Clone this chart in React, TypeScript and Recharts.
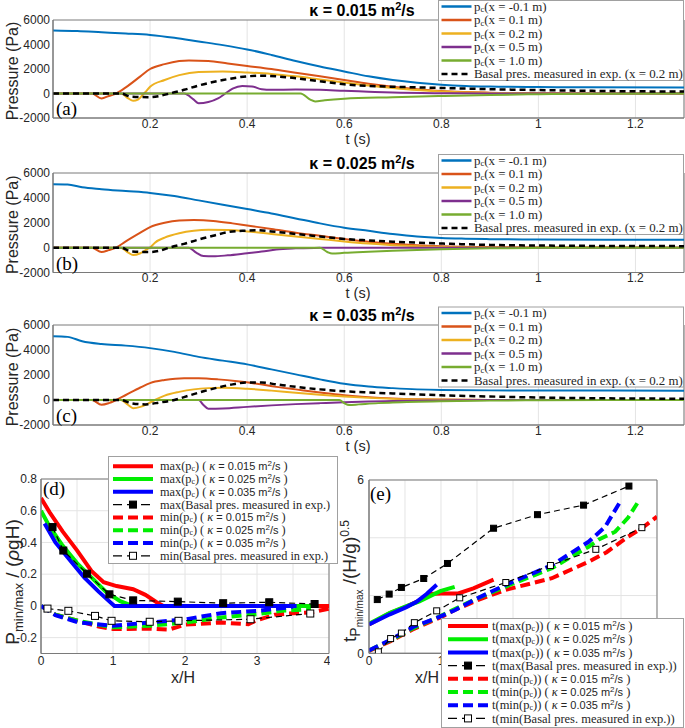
import React from "react";
import { LineChart, Line, XAxis, YAxis, CartesianGrid, ReferenceArea } from "recharts";

type Pt = [number, number];

// ---- (a)-(c): basal pressure p_c (Pa) against t (s)
const tTicks = [0.2, 0.4, 0.6, 0.8, 1, 1.2];
const pTicks = [-2000, 0, 2000, 4000, 6000];
const probeLabels = ["-0.1", "0.1", "0.2", "0.5", "1.0"];
const kappaLabels = ["0.015", "0.025", "0.035"];

// kappa = 0.015
const aM01: Pt[] = [[0, 5150], [0.05, 5100], [0.1, 5000], [0.15, 4900], [0.2, 4780], [0.25, 4550], [0.3, 4250], [0.35, 3950], [0.4, 3600], [0.45, 3150], [0.5, 2650], [0.55, 2200], [0.6, 1800], [0.65, 1400], [0.7, 1100], [0.75, 880], [0.8, 720], [0.85, 620], [0.9, 570], [1.0, 530], [1.1, 510], [1.3, 500]];
const a01: Pt[] = [[0, 0], [0.08, 0], [0.1, -400], [0.115, -200], [0.13, 0], [0.15, 500], [0.18, 1400], [0.2, 2000], [0.23, 2400], [0.26, 2650], [0.28, 2700], [0.32, 2650], [0.36, 2450], [0.4, 2250], [0.45, 2000], [0.5, 1700], [0.55, 1400], [0.6, 1100], [0.65, 800], [0.7, 550], [0.75, 350], [0.8, 200], [0.85, 120], [0.9, 70], [1.0, 30], [1.1, 10], [1.3, 0]];
const a02: Pt[] = [[0, 0], [0.14, 0], [0.155, -400], [0.165, -600], [0.175, -500], [0.185, -100], [0.19, 100], [0.2, 550], [0.23, 1100], [0.26, 1500], [0.3, 1760], [0.35, 1800], [0.4, 1720], [0.45, 1600], [0.5, 1400], [0.55, 1150], [0.6, 900], [0.65, 650], [0.7, 450], [0.75, 280], [0.8, 160], [0.9, 50], [1.0, 10], [1.3, 0]];
const a05: Pt[] = [[0, 0], [0.27, 0], [0.29, -500], [0.3, -800], [0.32, -700], [0.34, -400], [0.355, 0], [0.37, 400], [0.39, 620], [0.41, 580], [0.43, 350], [0.45, 300], [0.5, 320], [0.55, 300], [0.6, 220], [0.65, 150], [0.7, 80], [0.8, 20], [0.9, 0], [1.3, 0]];
const a10: Pt[] = [[0, 0], [0.51, 0], [0.53, -500], [0.54, -650], [0.56, -550], [0.6, -420], [0.7, -300], [0.8, -200], [0.9, -120], [1.0, -60], [1.1, -20], [1.3, 0]];
const aExp: Pt[] = [[0, 0], [0.14, 0], [0.16, -250], [0.2, -300], [0.22, -200], [0.24, 0], [0.27, 300], [0.3, 650], [0.35, 1100], [0.4, 1400], [0.43, 1450], [0.46, 1400], [0.5, 1250], [0.55, 1000], [0.6, 750], [0.65, 620], [0.7, 550], [0.75, 500], [0.8, 450], [0.85, 400], [0.9, 350], [1.0, 280], [1.1, 220], [1.2, 180], [1.3, 160]];

// kappa = 0.025
const bM01: Pt[] = [[0, 5100], [0.03, 5080], [0.06, 4850], [0.1, 4700], [0.15, 4550], [0.2, 4400], [0.25, 4150], [0.3, 3800], [0.35, 3450], [0.4, 3100], [0.45, 2750], [0.5, 2350], [0.55, 1950], [0.6, 1600], [0.65, 1350], [0.7, 1100], [0.75, 900], [0.8, 780], [0.85, 720], [0.9, 680], [1.0, 650], [1.3, 630]];
const b01: Pt[] = [[0, 0], [0.08, 0], [0.1, -350], [0.115, -200], [0.13, 0], [0.15, 500], [0.18, 1200], [0.2, 1650], [0.23, 2000], [0.26, 2180], [0.29, 2220], [0.33, 2150], [0.37, 1950], [0.4, 1780], [0.45, 1500], [0.5, 1200], [0.55, 950], [0.6, 700], [0.65, 480], [0.7, 320], [0.75, 200], [0.8, 120], [0.9, 40], [1.0, 10], [1.3, 0]];
const b02: Pt[] = [[0, 0], [0.14, 0], [0.155, -400], [0.165, -600], [0.18, -450], [0.195, -100], [0.2, 0], [0.21, 400], [0.23, 800], [0.26, 1150], [0.29, 1350], [0.32, 1430], [0.36, 1420], [0.4, 1300], [0.45, 1100], [0.5, 900], [0.55, 700], [0.6, 500], [0.65, 330], [0.7, 200], [0.75, 110], [0.8, 60], [0.9, 20], [1.3, 0]];
const b05: Pt[] = [[0, 0], [0.28, 0], [0.295, -400], [0.31, -680], [0.33, -700], [0.36, -620], [0.4, -450], [0.43, -320], [0.46, -150], [0.5, -60], [0.55, -20], [0.6, 0], [1.3, 0]];
const b10: Pt[] = [[0, 0], [0.55, 0], [0.565, -350], [0.575, -480], [0.6, -420], [0.65, -330], [0.7, -250], [0.8, -130], [0.9, -60], [1.0, -20], [1.3, 0]];
const bExp: Pt[] = [[0, 0], [0.14, 0], [0.16, -300], [0.2, -350], [0.22, -250], [0.24, 0], [0.27, 300], [0.3, 650], [0.33, 950], [0.36, 1250], [0.39, 1350], [0.42, 1400], [0.45, 1300], [0.5, 1100], [0.55, 900], [0.6, 700], [0.65, 580], [0.7, 480], [0.75, 400], [0.8, 330], [0.85, 270], [0.9, 220], [1.0, 170], [1.1, 140], [1.3, 120]];

// kappa = 0.035
const cM01: Pt[] = [[0, 5100], [0.03, 5050], [0.06, 4700], [0.1, 4480], [0.15, 4350], [0.2, 4150], [0.25, 3850], [0.3, 3450], [0.35, 3150], [0.4, 2850], [0.45, 2450], [0.5, 2050], [0.55, 1650], [0.6, 1300], [0.65, 1080], [0.7, 950], [0.75, 850], [0.8, 800], [0.9, 770], [1.0, 760], [1.3, 750]];
const c01: Pt[] = [[0, 0], [0.08, 0], [0.1, -380], [0.115, -250], [0.13, 0], [0.15, 400], [0.18, 1000], [0.2, 1350], [0.23, 1600], [0.27, 1750], [0.3, 1740], [0.34, 1650], [0.38, 1500], [0.42, 1300], [0.46, 1050], [0.5, 850], [0.55, 600], [0.6, 380], [0.65, 230], [0.7, 130], [0.75, 70], [0.8, 40], [0.9, 10], [1.3, 0]];
const c02: Pt[] = [[0, 0], [0.14, 0], [0.155, -400], [0.165, -650], [0.18, -550], [0.2, -200], [0.21, 0], [0.23, 350], [0.26, 650], [0.29, 850], [0.32, 950], [0.35, 980], [0.4, 900], [0.45, 750], [0.5, 580], [0.55, 420], [0.6, 280], [0.65, 170], [0.7, 90], [0.8, 30], [0.9, 10], [1.3, 0]];
const c05: Pt[] = [[0, 0], [0.3, 0], [0.31, -400], [0.32, -700], [0.35, -680], [0.4, -550], [0.45, -430], [0.5, -330], [0.55, -250], [0.6, -180], [0.65, -120], [0.7, -80], [0.8, -30], [0.9, 0], [1.3, 0]];
const c10: Pt[] = [[0, 0], [0.59, 0], [0.6, -250], [0.61, -400], [0.63, -350], [0.67, -250], [0.7, -200], [0.8, -100], [0.9, -50], [1.0, -20], [1.3, 0]];
const cExp: Pt[] = [[0, 0], [0.14, 0], [0.16, -250], [0.19, -350], [0.22, -200], [0.25, 0], [0.28, 350], [0.31, 700], [0.34, 1000], [0.37, 1250], [0.4, 1400], [0.43, 1400], [0.46, 1250], [0.5, 1050], [0.55, 850], [0.6, 700], [0.65, 600], [0.7, 520], [0.75, 450], [0.8, 380], [0.9, 280], [1.0, 200], [1.1, 150], [1.3, 100]];

// ---- (d): P_min/max / (rho g H) against x/H
const xhTicks = [0, 0.5, 1, 1.5, 2, 2.5, 3, 3.5, 4];
const dTicks = [-0.2, 0, 0.2, 0.4, 0.6, 0.8];
const dMax015: Pt[] = [[0, 0.68], [0.12, 0.59], [0.3, 0.47], [0.5, 0.35], [0.7, 0.22], [0.87, 0.15], [1.05, 0.125], [1.28, 0.105], [1.45, 0.07], [1.6, 0.025], [1.7, 0], [4, 0]];
const dMax025: Pt[] = [[0, 0.6], [0.12, 0.5], [0.3, 0.38], [0.5, 0.27], [0.7, 0.18], [0.9, 0.09], [1.1, 0.03], [1.27, 0], [3.85, 0]];
const dMax035: Pt[] = [[0.05, 0.52], [0.2, 0.4], [0.4, 0.29], [0.6, 0.18], [0.8, 0.09], [1.02, 0], [3.55, 0]];
const dMaxExp: Pt[] = [[0.16, 0.497], [0.31, 0.349], [0.64, 0.203], [0.95, 0.073], [1.28, 0.035], [1.9, 0.027], [2.53, 0.017], [3.17, 0.023], [3.8, 0.012]];
const dMin015: Pt[] = [[0, 0], [0.2, -0.055], [0.52, -0.095], [0.8, -0.13], [1.0, -0.146], [1.5, -0.143], [1.77, -0.15], [2.0, -0.118], [2.5, -0.105], [2.88, -0.115], [3.0, -0.09], [3.25, -0.055], [3.5, -0.046], [3.76, -0.04], [4.0, -0.017]];
const dMin025: Pt[] = [[0, 0], [0.2, -0.055], [0.52, -0.095], [1.0, -0.135], [1.5, -0.125], [2.0, -0.105], [2.5, -0.073], [3.0, -0.052], [3.34, -0.031], [3.75, -0.02]];
const dMin035: Pt[] = [[0, 0], [0.2, -0.058], [0.52, -0.104], [1.0, -0.125], [1.5, -0.105], [2.0, -0.085], [2.5, -0.046], [3.0, -0.031], [3.44, -0.01], [3.5, -0.005]];
const dMinExp: Pt[] = [[0.09, -0.017], [0.38, -0.031], [0.75, -0.063], [0.98, -0.094], [1.51, -0.1], [1.91, -0.094], [2.91, -0.084], [3.74, -0.048]];

// ---- (e): t_Pmin/max / (H/g)^0.5 against x/H
const eTicks = [0, 2, 4, 6];
const eMax015: Pt[] = [[0, 1.0], [0.29, 1.39], [0.52, 1.62], [0.66, 1.78], [0.85, 2.05], [1.0, 2.07], [1.24, 2.07], [1.45, 2.25], [1.73, 2.55]];
const eMax025: Pt[] = [[0, 1.02], [0.29, 1.4], [0.52, 1.63], [0.7, 1.8], [0.99, 2.15], [1.19, 2.3]];
const eMax035: Pt[] = [[0, 1.0], [0.29, 1.35], [0.52, 1.6], [0.66, 1.78], [0.8, 2.05], [0.94, 2.37]];
const eMaxExp: Pt[] = [[0.115, 1.86], [0.28, 2.05], [0.45, 2.28], [0.76, 2.59], [1.09, 3.11], [1.73, 4.33], [2.34, 4.8], [2.98, 5.13], [3.61, 5.79]];
const eMin015: Pt[] = [[0, 0.08], [0.3, 0.42], [0.6, 0.82], [1.0, 1.25], [1.19, 1.5], [1.5, 1.83], [1.89, 2.19], [2.54, 2.6], [3.05, 3.17], [3.3, 3.5], [3.6, 4.04], [3.8, 4.35], [4.0, 4.73]];
const eMin025: Pt[] = [[0, 0.1], [0.3, 0.45], [0.6, 0.85], [1.0, 1.3], [1.5, 1.9], [1.89, 2.3], [2.54, 2.95], [3.05, 3.69], [3.2, 3.95], [3.42, 4.21], [3.6, 4.7], [3.76, 5.33]];
const eMin035: Pt[] = [[0, 0.1], [0.3, 0.47], [0.62, 0.92], [0.92, 1.2], [1.19, 1.49], [1.5, 1.9], [1.89, 2.36], [2.54, 3.05], [3.05, 3.86], [3.28, 4.38], [3.38, 4.8], [3.49, 5.25]];
const eMinExp: Pt[] = [[0.13, 0.05], [0.3, 0.51], [0.45, 0.7], [0.63, 1.06], [0.94, 1.47], [1.26, 1.92], [1.9, 2.45], [2.52, 3.04], [3.15, 3.6], [3.79, 4.35]];

const SANS = "'Liberation Sans', Arial, sans-serif";
const SERIF = "'Liberation Serif', 'Times New Roman', serif";
const AXIS = "#7a7a7a";
const INK = "#262626";
const GRID = "#e4e4e4";

const pcColors = ["#0072BD", "#D95319", "#EDB120", "#7E2F8E", "#77AC30"];
const kColors = ["#ff0000", "#00ee00", "#0000ff"];

const toXY = (s: Pt[]) => s.map(([x, y]) => ({ x, y }));
const tickStyle = { fontSize: 12, fill: INK, fontFamily: SANS };

const square = (fill: string, size: number) => (props: any) => {
  const { cx, cy, index } = props;
  if (cx == null || cy == null) return <g key={`n${index}`} />;
  return (
    <rect key={`s${index}`} x={cx - size / 2} y={cy - size / 2} width={size} height={size}
      fill={fill} stroke="#000" strokeWidth={1} strokeDasharray="none" />
  );
};

function PressurePanel({ top, h, curves, exp }: { top: number; h: number; curves: Pt[][]; exp: Pt[] }) {
  return (
    <div style={{ position: "absolute", left: 0, top: top - 10 }}>
      <LineChart width={685} height={h + 40} margin={{ top: 10, right: 1, bottom: 0, left: 0 }}>
        <CartesianGrid horizontal={false} stroke={GRID} />
        <XAxis type="number" dataKey="x" domain={[0, 1.3]} ticks={tTicks} allowDataOverflow height={30}
          tickLine={false} tickSize={0} tickMargin={1} axisLine={{ stroke: AXIS }} tick={tickStyle} />
        <YAxis type="number" domain={[-2000, 6000]} ticks={pTicks} allowDataOverflow width={53}
          tickLine={false} tickSize={0} tickMargin={3} axisLine={{ stroke: AXIS }} tick={tickStyle} />
        <ReferenceArea x1={0} x2={1.3} y1={-2000} y2={6000} fill="none" stroke={AXIS} />
        {curves.map((c, i) => (
          <Line key={i} data={toXY(c)} dataKey="y" type="monotone" stroke={pcColors[i]} strokeWidth={2}
            dot={false} isAnimationActive={false} />
        ))}
        <Line data={toXY(exp)} dataKey="y" type="monotone" stroke="#000" strokeWidth={2.5} strokeDasharray="6 4"
          dot={false} isAnimationActive={false} />
      </LineChart>
    </div>
  );
}

function RatioPanel(props: {
  left: number; top: number; h: number; yDomain: [number, number]; yTicks: number[]; yFmt: (v: number) => string;
  xFmt: (v: number) => string; yMargin: number; maxes: Pt[][]; maxExp: Pt[]; mins: Pt[][]; minExp: Pt[]; msize: number;
}) {
  const { left, top, h, yDomain, yTicks, yFmt, xFmt, yMargin, maxes, maxExp, mins, minExp, msize } = props;
  return (
    <div style={{ position: "absolute", left, top: top - 10 }}>
      <LineChart width={330} height={h + 40} margin={{ top: 10, right: 1, bottom: 0, left: 0 }}>
        <CartesianGrid stroke={GRID} />
        <XAxis type="number" dataKey="x" domain={[0, 4]} ticks={xhTicks} allowDataOverflow height={30}
          tickFormatter={xFmt}
          tickLine={false} tickSize={0} tickMargin={3} axisLine={{ stroke: AXIS }} tick={tickStyle} />
        <YAxis type="number" domain={yDomain} ticks={yTicks} allowDataOverflow width={41} tickFormatter={yFmt}
          tickLine={false} tickSize={0} tickMargin={yMargin} axisLine={{ stroke: AXIS }} tick={tickStyle} />
        <ReferenceArea x1={0} x2={4} y1={yDomain[0]} y2={yDomain[1]} fill="none" stroke={AXIS} />
        {maxes.map((c, i) => (
          <Line key={`mx${i}`} data={toXY(c)} dataKey="y" type="linear" stroke={kColors[i]} strokeWidth={4}
            dot={false} isAnimationActive={false} />
        ))}
        <Line data={toXY(maxExp)} dataKey="y" type="linear" stroke="#000" strokeWidth={1.2} strokeDasharray="6 4"
          dot={square("#000", msize)} isAnimationActive={false} />
        {mins.map((c, i) => (
          <Line key={`mn${i}`} data={toXY(c)} dataKey="y" type="linear" stroke={kColors[i]} strokeWidth={4}
            strokeDasharray="10 5" dot={false} isAnimationActive={false} />
        ))}
        <Line data={toXY(minExp)} dataKey="y" type="linear" stroke="#000" strokeWidth={1.2} strokeDasharray="6 4"
          dot={square("#fff", msize)} isAnimationActive={false} />
      </LineChart>
    </div>
  );
}

type Item = { color: string; width: number; dash?: string; marker?: string; label: React.ReactNode };

function LegendBox({ x, y, w, h, row0, rowH, lx0, lx1, tx, fs, items }: {
  x: number; y: number; w: number; h: number; row0: number; rowH: number; lx0: number; lx1: number;
  tx: number; fs: number; items: Item[];
}) {
  return (
    <g>
      <rect x={x + 0.5} y={y + 0.5} width={w} height={h} fill="#fff" stroke="#a0a0a0" />
      {items.map((it, i) => {
        const cy = y + row0 + i * rowH;
        const mid = (lx0 + lx1) / 2;
        return (
          <g key={i}>
            <line x1={lx0} x2={lx1} y1={cy} y2={cy} stroke={it.color} strokeWidth={it.width} strokeDasharray={it.dash} />
            {it.marker && (
              <rect x={mid - 3.5} y={cy - 3.5} width={7} height={7} fill={it.marker} stroke="#000" strokeWidth={1} />
            )}
            <text x={tx} y={cy + fs * 0.33} fontFamily={SERIF} fontSize={fs} fill={INK}>{it.label}</text>
          </g>
        );
      })}
    </g>
  );
}

const pcLabel = (x: string) => (
  <>
    <tspan>p</tspan>
    <tspan fontSize={8.5} dy={1.5}>c</tspan>
    <tspan dy={-1.5}>{`(x = ${x} m)`}</tspan>
  </>
);

const kLabel = (head: string, tail: string, k: string) => (
  <>
    <tspan>{head}</tspan>
    <tspan fontSize={8} dy={1}>c</tspan>
    <tspan dy={-1}>{`${tail} ( `}</tspan>
    <tspan fontStyle="italic">κ</tspan>
    <tspan fontFamily={SANS} fontSize={11}>{` = ${k} m`}</tspan>
    <tspan fontFamily={SANS} fontSize={8} dy={-4}>2</tspan>
    <tspan fontFamily={SANS} fontSize={11} dy={4}>/s</tspan>
    <tspan>{" )"}</tspan>
  </>
);

const topPanels = [
  { top: 20, h: 98, tag: "(a)", curves: [aM01, a01, a02, a05, a10], exp: aExp, legendTop: 0 },
  { top: 173, h: 99.5, tag: "(b)", curves: [bM01, b01, b02, b05, b10], exp: bExp, legendTop: 154 },
  { top: 325, h: 100, tag: "(c)", curves: [cM01, c01, c02, c05, c10], exp: cExp, legendTop: 306.5 },
];

export default function App() {
  const topItems: Item[] = [
    ...probeLabels.map((p, i) => ({ color: pcColors[i], width: 2.5, label: pcLabel(p) })),
    { color: "#000", width: 2.5, dash: "6 4", label: "Basal pres. measured in exp. (x = 0.2 m)" },
  ];
  const dItems: Item[] = [
    ...kappaLabels.map((k, i) => ({ color: kColors[i], width: 4, label: kLabel("max(p", ")", k) })),
    { color: "#000", width: 1.2, dash: "9 5", marker: "#000", label: "max(Basal pres. measured in exp.)" },
    ...kappaLabels.map((k, i) => ({ color: kColors[i], width: 4, dash: "10 5", label: kLabel("min(p", ")", k) })),
    { color: "#000", width: 1.2, dash: "9 5", marker: "#fff", label: "min(Basal pres. measured in exp.)" },
  ];
  const eItems: Item[] = [
    ...kappaLabels.map((k, i) => ({ color: kColors[i], width: 4, label: kLabel("t(max(p", "))", k) })),
    { color: "#000", width: 1.2, dash: "9 5", marker: "#000", label: "t(max(Basal pres. measured in exp.))" },
    ...kappaLabels.map((k, i) => ({ color: kColors[i], width: 4, dash: "10 5", label: kLabel("t(min(p", "))", k) })),
    { color: "#000", width: 1.2, dash: "9 5", marker: "#fff", label: "t(min(Basal pres. measured in exp.))" },
  ];

  return (
    <div style={{ position: "absolute", left: 0, top: 0, width: 685, height: 728, background: "#fff", overflow: "hidden" }}>
      {topPanels.map((p) => (
        <PressurePanel key={p.tag} top={p.top} h={p.h} curves={p.curves} exp={p.exp} />
      ))}
      <RatioPanel left={0} top={479} h={174.5} yDomain={[-0.3, 0.8]} yTicks={dTicks} yFmt={(v) => String(v)} yMargin={4}
        xFmt={(v) => (Number.isInteger(v) ? String(v) : "")}
        maxes={[dMax015, dMax025, dMax035]} maxExp={dMaxExp} mins={[dMin015, dMin025, dMin035]} minExp={dMinExp} msize={7} />
      {/* in (e) the x labels beyond 1 sit under the legend box */}
      <RatioPanel left={328} top={480} h={173.3} yDomain={[0, 6]} yTicks={eTicks}
        yFmt={(v) => (v === 0 || v === 6 ? String(v) : "")} yMargin={5}
        xFmt={(v) => (v === 0 || v === 1 ? String(v) : "")}
        maxes={[eMax015, eMax025, eMax035]} maxExp={eMaxExp} mins={[eMin015, eMin025, eMin035]} minExp={eMinExp} msize={6} />

      <svg width={685} height={728} style={{ position: "absolute", left: 0, top: 0, pointerEvents: "none" }}>
        {topPanels.map((p, i) => {
          const bottom = p.top + p.h;
          return (
            <g key={p.tag}>
              <text x={362} y={p.top - 4} textAnchor="middle" fontFamily={SANS} fontWeight="bold" fontSize={16} fill="#000">
                {`κ = ${kappaLabels[i]} m`}
                <tspan fontSize={11} dy={-6}>2</tspan>
                <tspan dy={6}>/s</tspan>
              </text>
              <text transform={`translate(18, ${p.top + p.h / 2 + 2}) rotate(-90)`} textAnchor="middle"
                fontFamily={SANS} fontSize={16} fill={INK}>Pressure (Pa)</text>
              <text x={358} y={bottom + 25.5} textAnchor="middle" fontFamily={SANS} fontSize={14.5} fill={INK}>t (s)</text>
              <text x={56} y={bottom - 3} fontFamily={SERIF} fontSize={19} fill="#000">{p.tag}</text>
              <LegendBox x={438} y={p.legendTop} w={245} h={80} row0={6.5} rowH={13.5} lx0={441.5} lx1={471.5}
                tx={474} fs={12.9} items={topItems} />
            </g>
          );
        })}

        {/* (d) */}
        <text x={43} y={495} fontFamily={SERIF} fontSize={19} fill="#000">(d)</text>
        <text x={183} y={683} textAnchor="middle" fontFamily={SANS} fontSize={16} fill={INK}>x/H</text>
        <text transform="translate(19, 582) rotate(-90)" textAnchor="middle" fontFamily={SANS} fontSize={19} fill={INK}>
          P<tspan fontSize={13} dy={4}>min/max</tspan>
          <tspan dy={-4}>{" / ("}</tspan>
          <tspan fontStyle="italic">ρ</tspan>
          <tspan>gH)</tspan>
        </text>
        <LegendBox x={108} y={456} w={229} h={107} row0={10.2} rowH={12.8} lx0={113} lx1={153} tx={160} fs={12.3} items={dItems} />

        {/* (e) */}
        <text x={370} y={500} fontFamily={SERIF} fontSize={19} fill="#000">(e)</text>
        <text x={427} y={683} textAnchor="middle" fontFamily={SANS} fontSize={16} fill={INK}>x/H</text>
        <text transform="translate(356, 581) rotate(-90)" textAnchor="middle" fontFamily={SANS} fontSize={19} fill={INK}>
          t<tspan fontSize={14} dy={4}>P</tspan>
          <tspan fontSize={10} dy={3}>min/max</tspan>
          <tspan dy={-7}>{" /(H/g)"}</tspan>
          <tspan fontSize={12} dy={-7}>0.5</tspan>
        </text>
        <LegendBox x={441} y={618} w={242} h={109} row0={8} rowH={13.2} lx0={448} lx1={488} tx={492} fs={12.5} items={eItems} />
      </svg>
    </div>
  );
}
